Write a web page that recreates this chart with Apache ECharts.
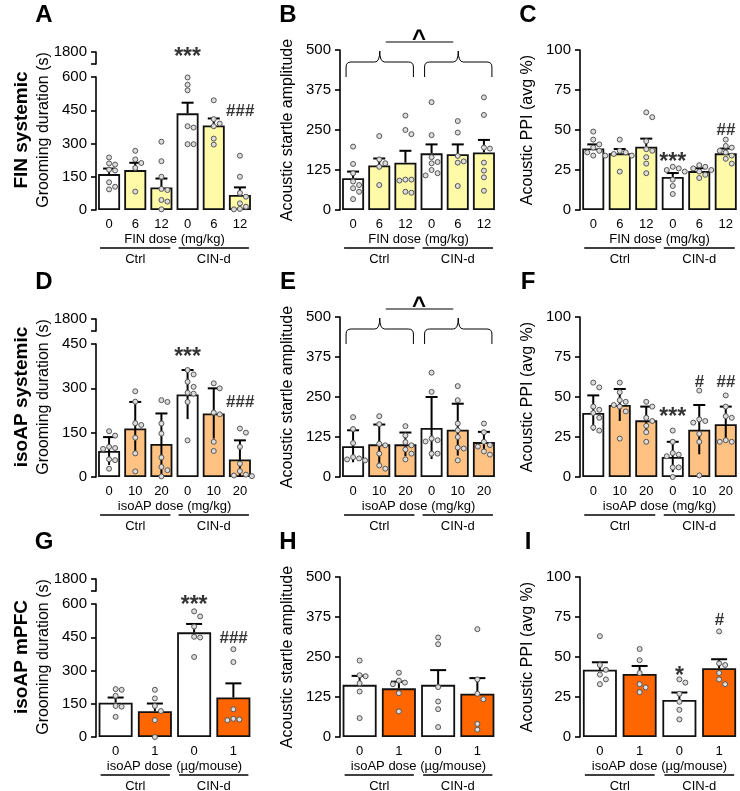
<!DOCTYPE html>
<html><head><meta charset="utf-8">
<script src="https://cdn.jsdelivr.net/npm/echarts@6/dist/echarts.min.js"></script>
<style>html,body{margin:0;padding:0;background:#fff}#c{width:740px;height:791px}</style>
</head><body><div id="c"></div>
<script>
// ---------- categories ----------
const catsFIN = ['0','6','12','0','6','12'];
const catsIsoSys = ['0','10','20','0','10','20'];
const catsMPFC = ['0','1','0','1'];
const groupNames = ['Ctrl','CIN-d'];

// ---------- Panel A: FIN systemic, grooming duration (s), mean ± SEM ----------
const aMeans = [162, 180, 102, 436, 381, 68];
const aErr   = [25, 33, 40, 48, 32, 34];
const aDots = [
  [237, 210, 205, 182, 178, 125, 105, 93],
  [267, 228, 212, 190, 83],
  [308, 220, 150, 95, 90, 45, 38, 3],
  [598, 565, 540, 378, 372, 297, 297],
  [495, 410, 390, 378, 322, 295],
  [245, 150, 77, 60, 30, 15, 5, 3]
];
// ---------- Panel B: FIN systemic, acoustic startle amplitude ----------
const bMeans = [99, 139, 148, 177, 174, 180];
const bErr   = [21, 22, 37, 28, 31, 39];
const bDots = [
  [198, 144, 115, 89, 78, 68, 57, 34],
  [231, 158, 146, 135, 78],
  [295, 250, 237, 95, 95, 92, 57, 54],
  [337, 234, 165, 150, 146, 125, 115, 108],
  [278, 242, 169, 152, 148, 75],
  [352, 297, 195, 192, 148, 123, 102, 60]
];
// ---------- Panel C: FIN systemic, acoustic PPI (avg %) ----------
const cMeans = [38.5, 35.4, 39.6, 20.6, 24.3, 35.4];
const cErr   = [2.5, 2.7, 5, 2.5, 1.8, 3];
const cDots = [
  [49, 44, 41, 39, 37, 36, 34, 34],
  [44, 37, 36, 35, 34, 24],
  [61, 58, 43, 38, 37, 33, 29, 23],
  [27, 26, 25, 24, 19, 15, 10],
  [28, 27, 26, 25, 24, 22, 20],
  [44, 40, 39, 37, 36, 34, 32, 29]
];
// ---------- Panel D: isoAP systemic, grooming, mean ± SD ----------
const dMeans = [88, 164, 112, 279, 215, 59];
const dErr   = [47, 90, 103, 83, 85, 65];
const dDots = [
  [155, 140, 102, 98, 95, 60, 57, 28],
  [290, 255, 182, 176, 133, 80, 19],
  [260, 254, 181, 147, 66, 34, 23, 2],
  [362, 347, 322, 305, 285, 282, 254, 124],
  [317, 300, 218, 212, 119, 88],
  [164, 150, 102, 45, 20, 8, 5, 3]
];
// ---------- Panel E: isoAP systemic, startle ----------
const eMeans = [96, 102, 102, 153, 148, 109];
const eErr   = [50, 62, 37, 97, 81, 32];
const eDots = [
  [187, 150, 106, 62, 58, 55, 52],
  [190, 165, 104, 99, 73, 36, 26],
  [159, 130, 109, 99, 86, 73, 55],
  [326, 266, 120, 115, 111, 73, 73],
  [284, 240, 167, 146, 125, 92, 89, 52],
  [167, 140, 110, 100, 95, 80, 70]
];
// ---------- Panel F: isoAP systemic, PPI ----------
const fMeans = [40, 45, 35.4, 12.5, 29.6, 33];
const fErr   = [11, 10, 8.6, 9.5, 15.4, 11];
const fDots = [
  [59, 56, 44, 42, 40, 37, 31, 29],
  [59, 53, 48, 47, 45, 44, 41, 24],
  [47, 44, 37, 35, 32, 28, 22],
  [29, 22, 15, 14, 13, 6, 6, 0],
  [54, 36, 35, 34, 27, 22, 1],
  [51, 44, 38, 37, 23, 22, 22]
];
// ---------- Panel G: isoAP mPFC, grooming ----------
const gMeans = [155, 116, 472, 178];
const gErr   = [23, 35, 38, 64];
const gDots = [
  [216, 213, 186, 140, 137, 91],
  [213, 174, 140, 117, 76, 0],
  [567, 544, 498, 452, 449, 361],
  [396, 338, 125, 82, 79, 76]
];
// ---------- Panel H: isoAP mPFC, startle ----------
const hMeans = [163, 152, 163, 135];
const hErr   = [28, 21, 46, 49];
const hDots = [
  [239, 193, 190, 168, 142, 59],
  [201, 176, 170, 165, 137, 80],
  [311, 290, 156, 111, 87, 31],
  [337, 180, 135, 118, 41, 23]
];
// ---------- Panel I: isoAP mPFC, PPI ----------
const iMeans = [42, 39.4, 23.2, 43];
const iErr   = [4.7, 5, 4.6, 5.6];
const iDots = [
  [63, 45, 42, 39, 36, 33],
  [55, 48, 40, 33, 31, 28],
  [36, 34, 27, 22, 17, 11],
  [66, 46, 45, 40, 36, 33]
];
// ---------- significance marks: [category index, y value, text] ----------
const sigA = [[3, 708, '***'], [5, 447, '###']];
const sigC = [[3, 33, '***'], [5, 50, '##']];
const sigD = [[3, 420, '***'], [5, 254, '###']];
const sigF = [[3, 40, '***'], [4, 59, '#'], [5, 59, '##']];
const sigG = [[2, 614, '***'], [3, 444, '###']];
const sigI = [[2, 40.6, '*'], [3, 73, '#']];
// y-axis ranges
const groomTicksMax = [600, 450, 600];
const brokenTop = 1800;

const rowLabels = ['FIN systemic', 'isoAP systemic', 'isoAP mPFC'];
const letters = ['A','B','C','D','E','F','G','H','I'];
const xNames = ['FIN dose (mg/kg)', 'isoAP dose (mg/kg)', 'isoAP dose (\u00b5g/mouse)'];
const rowCats = [catsFIN, catsIsoSys, catsMPFC];

// ---------- layout / style ----------
const FONT = '"Liberation Sans", Arial, Helvetica, sans-serif';
const rowBottom = [210, 477, 737];
const colLeft = [96, 340, 580];
const colWidth = [157, 157, 159];
const rowFill = ['#FFFAA8', '#FFC283', '#FF6600'];
const barW = [22, 22, 34];

const panels = [
  {m:aMeans,e:aErr,d:aDots,s:sigA,kind:'groom',two:false},
  {m:bMeans,e:bErr,d:bDots,s:[],kind:'startle',two:false,brace:true},
  {m:cMeans,e:cErr,d:cDots,s:sigC,kind:'ppi',two:false},
  {m:dMeans,e:dErr,d:dDots,s:sigD,kind:'groom',two:true},
  {m:eMeans,e:eErr,d:eDots,s:[],kind:'startle',two:true,brace:true},
  {m:fMeans,e:fErr,d:fDots,s:sigF,kind:'ppi',two:true},
  {m:gMeans,e:gErr,d:gDots,s:sigG,kind:'groom',two:false},
  {m:hMeans,e:hErr,d:hDots,s:[],kind:'startle',two:false},
  {m:iMeans,e:iErr,d:iDots,s:sigI,kind:'ppi',two:false}
];
const yNames = {groom:'Grooming duration (s)', startle:'Acoustic startle amplitude', ppi:'Acoustic PPI (avg %)'};

const grids = [], xAxes = [], yAxes = [], series = [];
const axisLineStyle = {color:'#000', width:1.6};

panels.forEach((P, p) => {
  const row = Math.floor(p/3), col = p%3;
  const bottom = rowBottom[row];
  const broken = P.kind === 'groom';
  const h = broken ? 133 : 160;
  let max, interval;
  if (P.kind === 'groom') { max = groomTicksMax[row]; interval = 150; }
  else if (P.kind === 'startle') { max = 500; interval = 125; }
  else { max = 100; interval = 25; }
  grids.push({left: colLeft[col], width: colWidth[col], top: bottom - h, height: h});
  xAxes.push({gridIndex:p, type:'category', data: rowCats[row],
    axisLine:{show:false}, axisTick:{show:false},
    axisLabel:{fontSize:13, color:'#000', margin:8, fontFamily:FONT},
    name: xNames[row], nameLocation:'middle', nameGap:23,
    nameTextStyle:{fontSize:13, color:'#000', fontFamily:FONT}});
  yAxes.push({gridIndex:p, type:'value', min:0, max, interval,
    axisLine:{show:true, lineStyle:axisLineStyle},
    axisTick:{show:true, length:5, lineStyle:axisLineStyle},
    axisLabel:{fontSize:15, color:'#000', margin:9, fontFamily:FONT},
    splitLine:{show:false}});
  const white = i => (row < 2 ? i % 3 === 0 : i % 2 === 0);
  series.push({type:'bar', xAxisIndex:p, yAxisIndex:p, barWidth: barW[row], z:2,
    data: P.m.map((v,i) => ({value:v, itemStyle:{color: white(i) ? '#ffffff' : rowFill[row], borderColor:'#111', borderWidth:1.8}})),
    silent:true});
  series.push({type:'custom', xAxisIndex:p, yAxisIndex:p, z:3, silent:true,
    data: P.m.map((v,i) => [i, v, P.two ? Math.max(0, v - P.e[i]) : v, v + P.e[i]]),
    renderItem: (params, api) => {
      const x = api.value(0);
      const top = api.coord([x, api.value(3)]);
      const lo = api.coord([x, api.value(2)]);
      const cap = row === 2 ? 8 : 6;
      return {type:'group', children:[
        {type:'line', shape:{x1:top[0], y1:top[1], x2:lo[0], y2:lo[1]}, style:{stroke:'#000', lineWidth:2}},
        {type:'line', shape:{x1:top[0]-cap, y1:top[1], x2:top[0]+cap, y2:top[1]}, style:{stroke:'#000', lineWidth:2}}
      ]};
    }});
  // dots: beeswarm-like placement so overlapping points sit side by side
  const ppu = h / max;
  const dotData = [];
  P.d.forEach((vals, ci) => {
    const placed = [];
    const sorted = vals.slice().sort((a,b)=>b-a);
    sorted.forEach(v => {
      const y = v * ppu;
      const offs = [0, 6, -6, 12, -12];
      let chosen = offs[offs.length-1];
      for (const o of offs) {
        if (placed.every(q => Math.hypot(q.x - o, q.y - y) >= 5.5)) { chosen = o; break; }
      }
      placed.push({x:chosen, y});
      dotData.push({value:[ci, v], symbolOffset:[chosen, 0]});
    });
  });
  series.push({type:'scatter', xAxisIndex:p, yAxisIndex:p, z:4, silent:true, clip:false,
    symbol:'circle', symbolSize:5,
    itemStyle:{color:'#dcdcdc', borderColor:'#555', borderWidth:1, opacity:1},
    data: dotData});
  if (P.s.length) {
    series.push({type:'scatter', xAxisIndex:p, yAxisIndex:p, z:5, silent:true, clip:false,
      symbolSize:1, itemStyle:{color:'rgba(0,0,0,0)'},
      label:{show:true, position:'inside', formatter:'{b}', color:'#000', fontFamily:FONT, fontWeight:'bold'},
      data: P.s.map(s => {
        const star = s[2].indexOf('*') >= 0;
        return {value:[s[0], s[1]], name:s[2],
          label:{show:true, formatter:'{b}', color:'#000', fontFamily:FONT, fontWeight:'bold',
            fontSize: star ? 23 : 17, fontStyle: star ? 'normal' : 'italic', offset:[0, star ? 5 : 0]}};
      })});
  }
});

// broken-axis stubs (1800) above the grooming panels
[0, 3, 6].forEach((p) => {
  const row = p/3;
  const gi = grids.length;
  grids.push({left: colLeft[0], width: colWidth[0], top: rowBottom[row] - 158, height: 12});
  xAxes.push({gridIndex:gi, type:'category', data:['x'], show:false});
  yAxes.push({gridIndex:gi, type:'value', min: brokenTop - 100, max: brokenTop, interval:100,
    axisLine:{show:true, lineStyle:axisLineStyle},
    axisTick:{show:true, length:5, lineStyle:axisLineStyle},
    axisLabel:{fontSize:15, color:'#000', margin:9, fontFamily:FONT, formatter: v => v === brokenTop ? String(v) : ''},
    splitLine:{show:false}});
});

const chart = echarts.init(document.getElementById('c'), null, {renderer:'canvas'});
chart.setOption({animation:false, backgroundColor:'#fff', grid:grids, xAxis:xAxes, yAxis:yAxes, series});

// ---------- decorations ----------
const gfx = [];
const txt = (x, y, text, font, extra) => Object.assign({type:'text', x, y, silent:true,
  style:{text, font, fill:'#000', align:'center', verticalAlign:'middle'}}, extra || {});
const seg = (x1, y1, x2, y2, w) => ({type:'line', silent:true, shape:{x1, y1, x2, y2}, style:{stroke:'#000', lineWidth:w || 1}});
const curve = (x1, y1, cx, cy, x2, y2) => ({type:'bezierCurve', silent:true,
  shape:{x1, y1, x2, y2, cpx1:cx, cpy1:cy}, style:{stroke:'#000', fill:null, lineWidth:1}});
panels.forEach((P, p) => {
  const row = Math.floor(p/3), col = p%3;
  const bottom = rowBottom[row];
  const axisX = colLeft[col];
  gfx.push(txt(axisX - 52, bottom - 195, letters[p], 'bold 24px ' + FONT));
  gfx.push(txt(axisX - 52, bottom - 80, yNames[P.kind], '16px ' + FONT, {rotation: Math.PI/2}));
  const cats = rowCats[row];
  const per = cats.length / 2;
  const bw = barW[row];
  const groupsPx = [];
  for (let g = 0; g < 2; g++) {
    const c0 = chart.convertToPixel({xAxisIndex:p, yAxisIndex:p}, [g*per, 0]);
    const c1 = chart.convertToPixel({xAxisIndex:p, yAxisIndex:p}, [g*per + per - 1, 0]);
    const x1 = c0[0] - bw/2 + 2, x2 = c1[0] + bw/2 - 2;
    groupsPx.push([x1, x2]);
    gfx.push(seg(x1, bottom+38, x2, bottom+38, 1.5));
    gfx.push(txt((x1+x2)/2, bottom+49, groupNames[g], '13px ' + FONT));
  }
  if (P.brace) {
    const top = bottom - 160;
    const tips = [];
    groupsPx.forEach(([a, b]) => {
      const x1 = a + 2, x2 = b - 1, xc = (x1 + x2)/2;
      const yT = top + 1, yM = top + 12, yE = top + 27, r = 5;
      tips.push(xc);
      gfx.push(seg(x1, yE, x1, yM + r));
      gfx.push(curve(x1, yM + r, x1, yM, x1 + r, yM));
      gfx.push(seg(x1 + r, yM, xc - r, yM));
      gfx.push(curve(xc - r, yM, xc, yM, xc, yT));
      gfx.push(curve(xc, yT, xc, yM, xc + r, yM));
      gfx.push(seg(xc + r, yM, x2 - r, yM));
      gfx.push(curve(x2 - r, yM, x2, yM, x2, yM + r));
      gfx.push(seg(x2, yM + r, x2, yE));
    });
    gfx.push(seg(tips[0]+6, top-8, tips[1]-5, top-8, 1.2));
    gfx.push(txt((tips[0]+tips[1])/2, top-11, '^', 'bold 24px ' + FONT));
  }
});
rowLabels.forEach((t, r) => gfx.push(txt(22, rowBottom[r] - 80, t, 'bold 19px ' + FONT, {rotation: Math.PI/2})));
chart.setOption({graphic: gfx});
</script></body></html>
